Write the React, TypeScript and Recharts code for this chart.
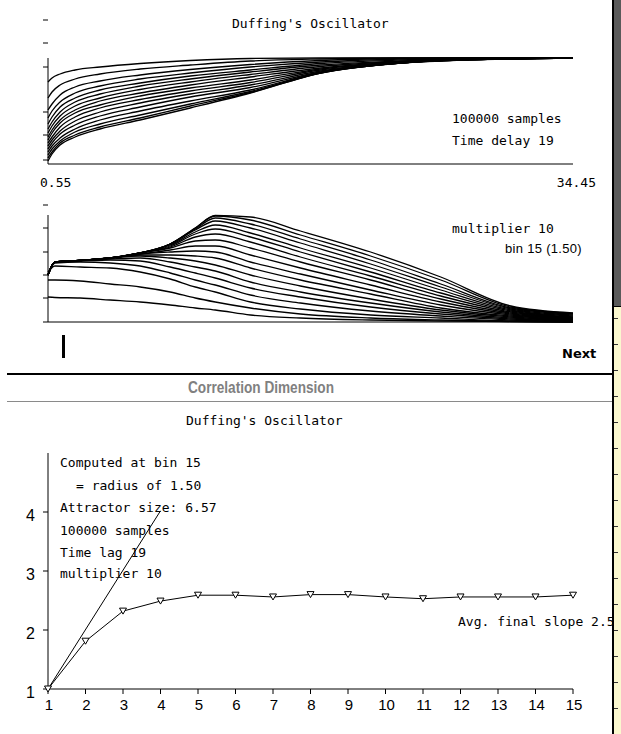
import { LineChart, Line, XAxis, YAxis, ReferenceLine } from "recharts";

// --- top panel: correlation sums, one curve per embedding dimension ---
const topX = [0.55, 0.81, 1.33, 2.3, 3.91, 6.5, 9.74, 13.62, 18.15, 23.32, 28.5, 34.45];
const top01 = [82, 86, 90, 94, 97, 100.5, 103.5, 105.5, 106, 106, 106, 106];
const top02 = [66, 72, 79, 85, 90, 95, 99, 103, 105, 106, 106, 106];
const top03 = [54, 60, 69, 77, 83, 89, 94.5, 99.5, 103.5, 105.5, 106, 106];
const top04 = [46, 53, 62, 71, 78, 85, 91, 97, 102, 105, 106, 106];
const top05 = [40, 47, 57, 66, 74, 81, 88, 94, 100.5, 104, 105.5, 106];
const top06 = [35, 42, 52, 62, 70, 78, 85, 92, 99, 103, 105, 106];
const top07 = [31, 38, 48, 58, 66, 74.5, 82, 89.5, 97.5, 102.5, 105, 106];
const top08 = [27, 34, 44, 54, 63, 71, 79, 87, 96, 102, 104.5, 106];
const top09 = [24, 31, 41, 51, 59, 68, 76, 84, 95, 101.5, 104.5, 106];
const top10 = [21, 27, 37, 47, 56, 64.5, 73, 81.5, 94, 101, 104.5, 106];
const top11 = [18, 24, 33, 43, 52, 61, 70, 79, 93, 101, 104.5, 106];
const top12 = [15, 21, 30, 39, 48, 57, 67, 76.5, 92, 101, 104.5, 106];
const top13 = [12, 18, 26, 35, 44, 53, 63, 74, 91.5, 101, 105, 106];
const top14 = [9, 15, 23, 32, 40, 49, 60, 72.5, 91, 101, 105, 106];
const top15 = [6, 12, 21, 29, 37, 46, 58, 71.5, 91, 101, 105, 106];
const top16 = [3, 10, 19, 27, 35, 44, 56, 71, 91, 101, 105, 106];
const topYTicks = [4, 29, 52, 76, 97, 121, 144];
const topXTicks = [0.55, 34.45];

// --- middle panel: local slopes ---
const midX = [0.55, 1.0, 2.62, 4.56, 6.5, 8.44, 10.06, 11.35, 13.62, 16.85, 21.38, 25.91, 30.44, 34.45];
const mid01 = [47, 60, 61.5, 64, 69, 78, 94, 106.5, 105, 91, 70, 45, 16, 9];
const mid02 = [47, 60, 61.5, 64, 69, 78, 94, 106, 102, 87, 66, 42, 15, 8.5];
const mid03 = [47, 60, 61.5, 64, 69, 78, 93, 104, 98, 83, 62, 38, 14, 8];
const mid04 = [47, 60, 61.5, 64, 69, 78, 92, 101, 94, 79, 58, 35, 13, 7];
const mid05 = [47, 60, 61.5, 64, 69, 77, 90, 97, 89, 74, 54, 32, 12, 6];
const mid06 = [47, 60, 61.5, 64, 69, 76, 88, 93, 85, 70, 50, 29, 11, 5];
const mid07 = [47, 60, 61.5, 64, 69, 75, 85, 88, 80, 65, 46, 26, 10, 4.5];
const mid08 = [47, 60, 61.5, 64, 69, 74, 81, 82, 74, 60, 42, 23, 9, 4];
const mid09 = [47, 60, 61.5, 64, 68, 72, 76, 76, 67, 54, 37, 20, 8, 3.5];
const mid10 = [47, 60, 61.5, 64, 68, 70, 71, 70, 60, 48, 32, 17, 7, 3];
const mid11 = [47, 60, 61.5, 64, 67, 67, 66, 64, 54, 42, 28, 14, 6, 2.5];
const mid12 = [47, 60, 61.5, 64, 66, 64, 61, 57, 47, 36, 23, 12, 5, 2];
const mid13 = [47, 60, 61.5, 63, 64, 60, 55, 51, 40, 30, 19, 10, 4, 1.5];
const mid14 = [47, 60, 61, 62, 61, 55, 49, 44, 34, 25, 15, 8, 3, 1];
const mid15 = [47, 59, 60, 59, 56, 49, 42, 37, 27, 19, 11, 6, 2, 0.5];
const mid16 = [50, 56, 55, 54, 50, 43, 35, 30, 20, 13, 7, 4, 1, 0];
const mid17 = [42, 42, 41, 38, 35, 30, 24, 20, 14, 8, 4, 2, 0.5, 0];
const mid18 = [25, 24.5, 24, 22, 20, 17, 14, 12, 7, 4, 2, 1, 0.5, 0];
const midYTicks = [0, 24, 47, 70, 94, 117];

// --- bottom panel: correlation dimension vs embedding dimension ---
const dims = [1, 2, 3, 4, 5, 6, 7, 8, 9, 10, 11, 12, 13, 14, 15];
const slopes = [1.0, 1.81, 2.32, 2.49, 2.59, 2.59, 2.56, 2.6, 2.6, 2.56, 2.53, 2.56, 2.56, 2.56, 2.59];
const idealDims = [1, 4];
const idealSlopes = [1, 4.02];
const slopeTicks = [1, 2, 3, 4];

const topCurves = [top01, top02, top03, top04, top05, top06, top07, top08, top09, top10, top11, top12, top13, top14, top15, top16];
const midCurves = [mid01, mid02, mid03, mid04, mid05, mid06, mid07, mid08, mid09, mid10, mid11, mid12, mid13, mid14, mid15, mid16, mid17, mid18];

function toRows(xs: number[], curves: number[][]) {
  return xs.map((x, i) => {
    const row: Record<string, number> = { x };
    curves.forEach((c, k) => {
      row[`c${k}`] = c[i];
    });
    return row;
  });
}

const topRows = toRows(topX, topCurves);
const midRows = toRows(midX, midCurves);
const slopeRows = dims.map((n, i) => ({ n, slope: slopes[i] }));
const idealRows = idealDims.map((n, i) => ({ n, ideal: idealSlopes[i] }));

const MONO = "'DejaVu Sans Mono', monospace";
const SANS = "'Liberation Sans', Arial, sans-serif";

// eslint-disable-next-line @typescript-eslint/no-explicit-any
function TriangleDot(props: any) {
  const { cx, cy } = props;
  if (cx == null || cy == null) return null;
  return (
    <polygon
      points={`${cx - 3.5},${cy - 3} ${cx + 3.5},${cy - 3} ${cx},${cy + 3}`}
      fill="#fff"
      stroke="#000"
      strokeWidth={1}
    />
  );
}

// tick marks only, no labels (the Mac plot just has dashes)
function NoLabel() {
  return <g />;
}

// eslint-disable-next-line @typescript-eslint/no-explicit-any
function RangeTick({ x, y, payload }: any) {
  const first = payload.value < 1;
  return (
    <text
      x={first ? x - 8 : x + 23}
      y={y + 23}
      textAnchor={first ? "start" : "end"}
      fontFamily={MONO}
      fontSize={13}
      fill="#000"
    >
      {payload.value.toFixed(2)}
    </text>
  );
}

// eslint-disable-next-line @typescript-eslint/no-explicit-any
function DimTick({ x, y, payload }: any) {
  return (
    <text x={x + 1} y={y + 16} textAnchor="middle" fontFamily={SANS} fontSize={15} fill="#000">
      {payload.value}
    </text>
  );
}

// eslint-disable-next-line @typescript-eslint/no-explicit-any
function SlopeTick({ x, y, payload }: any) {
  return (
    <text x={x - 8} y={y + 9} textAnchor="end" fontFamily={SANS} fontSize={16} fill="#000">
      {payload.value}
    </text>
  );
}

const stripTicks = [318, 344, 370, 396, 422, 448, 474, 500, 526, 552, 578, 604, 630, 656, 682, 708];

export default function App() {
  return (
    <div
      style={{
        position: "fixed",
        left: 0,
        top: 0,
        width: 621,
        height: 734,
        background: "#fff",
        overflow: "hidden",
      }}
    >
      <div style={{ position: "absolute", left: 0, top: 0 }}>
        <LineChart width={621} height={200} data={topRows} margin={{ top: 20, right: 48, bottom: 16, left: 0 }}>
          <XAxis
            dataKey="x"
            type="number"
            domain={[0.55, 34.45]}
            ticks={topXTicks}
            height={20}
            stroke="#000"
            tickLine={false}
            tickSize={0}
            tickMargin={0}
            tick={<RangeTick />}
          />
          <YAxis
            type="number"
            domain={[0, 144]}
            ticks={topYTicks}
            width={48}
            stroke="#000"
            axisLine={false}
            tickLine={{ stroke: "#000" }}
            tickSize={5}
            tick={<NoLabel />}
          />
          <ReferenceLine
            segment={[
              { x: 0.55, y: 0 },
              { x: 0.55, y: 106 },
            ]}
            stroke="#000"
          />
          {topCurves.map((_, k) => (
            <Line
              key={k}
              dataKey={`c${k}`}
              type="monotone"
              stroke="#000"
              strokeWidth={1.3}
              dot={false}
              activeDot={false}
              isAnimationActive={false}
            />
          ))}
        </LineChart>
      </div>

      <div style={{ position: "absolute", left: 0, top: 190 }}>
        <LineChart width={621} height={150} data={midRows} margin={{ top: 15, right: 48, bottom: 0, left: 0 }}>
          <XAxis
            dataKey="x"
            type="number"
            domain={[0.55, 34.45]}
            height={18}
            stroke="#000"
            tick={<NoLabel />}
            tickLine={false}
          />
          <YAxis
            type="number"
            domain={[0, 117]}
            ticks={midYTicks}
            width={48}
            stroke="#000"
            axisLine={false}
            tickLine={{ stroke: "#000" }}
            tickSize={5}
            tick={<NoLabel />}
          />
          <ReferenceLine
            segment={[
              { x: 0.55, y: 0 },
              { x: 0.55, y: 107 },
            ]}
            stroke="#000"
          />
          {midCurves.map((_, k) => (
            <Line
              key={k}
              dataKey={`c${k}`}
              type="monotone"
              stroke="#000"
              strokeWidth={1.3}
              dot={false}
              activeDot={false}
              isAnimationActive={false}
            />
          ))}
        </LineChart>
      </div>

      <div style={{ position: "absolute", left: 0, top: 440 }}>
        <LineChart width={621} height={294} margin={{ top: 13, right: 48, bottom: 15, left: 0 }}>
          <XAxis
            dataKey="n"
            type="number"
            domain={[1, 15]}
            ticks={dims}
            height={30}
            stroke="#000"
            tickLine={{ stroke: "#000" }}
            tickSize={5}
            tickMargin={0}
            tick={<DimTick />}
          />
          <YAxis
            type="number"
            domain={[1, 5]}
            ticks={slopeTicks}
            width={48}
            stroke="#000"
            tickLine={{ stroke: "#000" }}
            tickSize={5}
            tickMargin={0}
            tick={<SlopeTick />}
          />
          <Line
            data={idealRows}
            dataKey="ideal"
            type="linear"
            stroke="#000"
            strokeWidth={1}
            dot={false}
            activeDot={false}
            isAnimationActive={false}
          />
          <Line
            data={slopeRows}
            dataKey="slope"
            type="linear"
            stroke="#000"
            strokeWidth={1}
            dot={<TriangleDot />}
            activeDot={false}
            isAnimationActive={false}
          />
        </LineChart>
      </div>

      <svg
        width={621}
        height={734}
        style={{ position: "absolute", left: 0, top: 0, pointerEvents: "none" }}
      >
        <g fontFamily={MONO} fontSize={13} fill="#000">
          <text x={232} y={28}>Duffing's Oscillator</text>
          <text x={452} y={123}>100000 samples</text>
          <text x={452} y={145}>Time delay 19</text>
          <text x={452} y={233}>multiplier 10</text>
          <text x={186} y={425}>Duffing's Oscillator</text>
          <text x={60} y={467}>Computed at bin 15</text>
          <text x={76} y={490}>= radius of 1.50</text>
          <text x={60} y={512}>Attractor size: 6.57</text>
          <text x={60} y={535}>100000 samples</text>
          <text x={60} y={557}>Time lag 19</text>
          <text x={60} y={578}>multiplier 10</text>
          <text x={458} y={626}>Avg. final slope 2.5</text>
        </g>
        <text x={505} y={253} fontFamily={SANS} fontSize={13} letterSpacing={0.3} fill="#000">
          bin 15 (1.50)
        </text>
        <text x={562} y={358} fontFamily="'DejaVu Sans', sans-serif" fontWeight="bold" fontSize={13} fill="#000">
          Next
        </text>
        <rect x={62} y={335} width={3} height={23} fill="#000" />

        <rect x={7} y={373} width={606} height={2} fill="#000" />
        <text
          x={188}
          y={393}
          fontFamily={SANS}
          fontWeight="bold"
          fontSize={16}
          fill="#808080"
          textLength={146}
          lengthAdjust="spacingAndGlyphs"
        >
          Correlation Dimension
        </text>
        <rect x={7} y={401} width={606} height={1} fill="#8a8a8a" />
      </svg>

      <div style={{ position: "absolute", left: 612, top: 0, width: 2, height: 734, background: "#000" }} />
      <div style={{ position: "absolute", left: 614, top: 0, width: 7, height: 306, background: "#5a5a5a" }} />
      <div
        style={{
          position: "absolute",
          left: 614,
          top: 306,
          width: 7,
          height: 428,
          background: "#fbf8cf",
          borderTop: "1px solid #000",
          boxSizing: "border-box",
        }}
      />
      {stripTicks.map((t) => (
        <div key={t} style={{ position: "absolute", left: 614, top: t, width: 4, height: 1, background: "#333" }} />
      ))}
    </div>
  );
}
